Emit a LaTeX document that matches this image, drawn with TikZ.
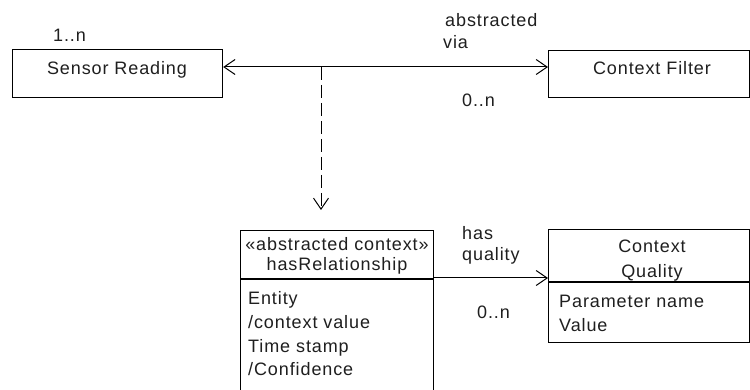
\documentclass[tikz,border=0pt]{standalone}
\usepackage{fontspec}
\setmainfont{Liberation Sans}[LetterSpace=5.0]
\usetikzlibrary{arrows.meta}
\begin{document}
\begin{tikzpicture}[x=1pt,y=-1pt,
  font=\fontsize{18}{22}\selectfont,
  boxline/.style={draw=black, line width=1.2pt},
  lbl/.style={inner sep=0pt, anchor=base west, text=black!88},
  ctr/.style={inner sep=0pt, anchor=base, text=black!88},
  conn/.style={line width=1pt},
  barb/.style={-{Straight Barb[length=11pt,width=15pt,line width=1pt]}},
  barbboth/.style={{Straight Barb[length=11pt,width=15pt,line width=1pt]}-{Straight Barb[length=11pt,width=15pt,line width=1pt]}}]
\clip (0,0) rectangle (750,390);
\fill[white] (0,0) rectangle (750,390);

% boxes
\node[boxline, anchor=north west, minimum width=210pt, minimum height=48pt, inner sep=0pt] (SR) at (12,49) {};
\node[boxline, anchor=north west, minimum width=201pt, minimum height=47pt, inner sep=0pt] (CF) at (548,50) {};
\node[boxline, anchor=north west, minimum width=193pt, minimum height=180pt, inner sep=0pt] (HR) at (240,230) {};
\node[boxline, anchor=north west, minimum width=201pt, minimum height=113pt, inner sep=0pt] (CQ) at (548,229) {};

% compartment separators
\coordinate (hrs) at (0,279);
\coordinate (cqs) at (0,282);
\draw[boxline] (HR.west |- hrs) -- (HR.east |- hrs);
\draw[boxline] (CQ.west |- cqs) -- (CQ.east |- cqs);

% box texts
\node[ctr] (t1) at (117,75) {Sensor Reading};
\node[ctr] (t2) at (652,75) {Context Filter};
\node[ctr] (h1) at (337,251) {«abstracted context»};
\node[ctr] (h2) at (337,271) {hasRelationship};
\node[lbl] (e1) at (248,305) {Entity};
\node[lbl] (e2) at (248,328.5) {/context value};
\node[lbl] (e3) at (248,352) {Time stamp};
\node[lbl] (e4) at (248,375.5) {/Confidence};
\node[ctr] (c1) at (652,253) {Context};
\node[ctr] (c2) at (652,277) {Quality};
\node[lbl] (p1) at (559,307) {Parameter name};
\node[lbl] (p2) at (559,331) {Value};

% connector labels
\node[lbl] (m1) at (53,42) {1..n};
\node[lbl] (a1) at (445,27) {abstracted};
\node[lbl] (a2) at (443,49) {via};
\node[lbl] (m2) at (462,107) {0..n};
\node[lbl] (q1) at (462,240) {has};
\node[lbl] (q2) at (462,261) {quality};
\node[lbl] (m3) at (477,318) {0..n};

% connectors
\coordinate (hl) at (0,67);
\coordinate (ql) at (0,278);
\coordinate (dtop) at (321,67);
\coordinate (dend) at (321,210);
\draw[conn, barbboth] (SR.east |- hl) -- (CF.west |- hl);
\draw[conn, barb, dash pattern=on 13pt off 5pt] (dtop) -- (dend);
\draw[conn, barb] (HR.east |- ql) -- (CQ.west |- ql);
\end{tikzpicture}
\end{document}
